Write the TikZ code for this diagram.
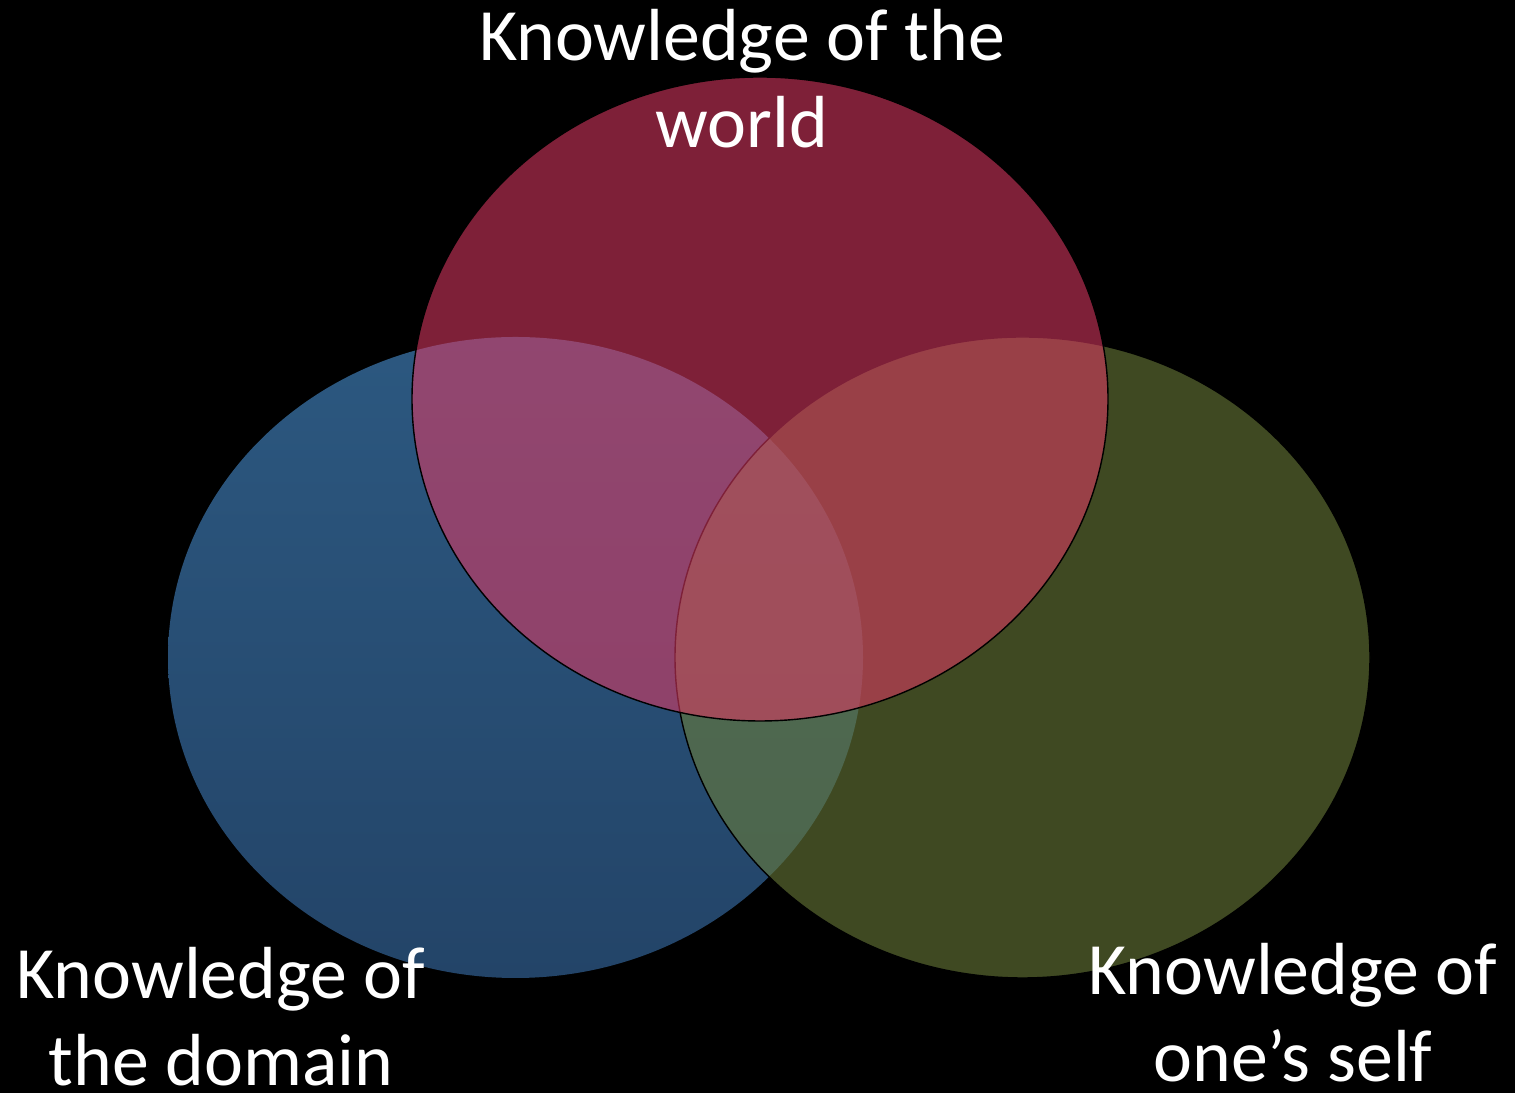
\documentclass[tikz,border=0pt]{standalone}
\usepackage{fontspec}
\setmainfont{Carlito}
\usepackage{tikz}
\usetikzlibrary{positioning,shapes.geometric}
\definecolor{domainblue}{RGB}{44,88,128}
\definecolor{domainblue2}{RGB}{35,68,104}
\definecolor{selfgreen}{RGB}{105,123,57}
\definecolor{worldred}{RGB}{223,58,100}
\begin{document}
\begin{tikzpicture}[ring/.style={ellipse,inner sep=0pt,minimum width=13.9cm,minimum height=12.82cm},
                    lbl/.style={text=white,align=center,font=\fontsize{42}{50}\selectfont,anchor=base}]
                      \fill[black] (0,0) rectangle (30.3,21.86);
                      \useasboundingbox (0,0) rectangle (30.3,21.86);

                      \node[ring,top color=domainblue,bottom color=domainblue2] (dom) at (10.31,8.71) {};
                      \node[ring,fill=selfgreen,fill opacity=0.6,draw=black,line width=0.8pt] (self) at (20.45,8.71) {};
                      \node[ring,minimum width=13.92cm,minimum height=12.88cm,fill=worldred,fill opacity=0.57,draw=black,line width=0.8pt] (world) at (15.2,13.88) {};

                      % base anchor sits on the last line
                      \node[lbl] (tworld) at (14.84,18.9) {Knowledge of the\\world};
                      \node[lbl] (tdom) at (4.42,0.14) {Knowledge of\\the domain};
                      \node[lbl] (tself) at (25.86,0.22) {Knowledge of\\one’s self};
                    \end{tikzpicture}
\end{document}
